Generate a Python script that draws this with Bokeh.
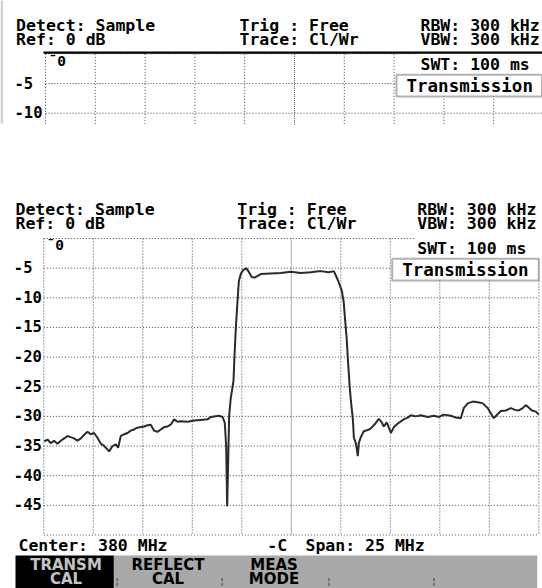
from bokeh.plotting import figure
from bokeh.models import Range1d, FixedTicker, Label, BoxAnnotation
from bokeh.layouts import column
from bokeh.embed import file_html
from bokeh.resources import INLINE

# ---------------- data ----------------
freq_mhz = [
    367.52, 367.69, 367.85, 368.02, 368.19, 368.36, 368.53, 368.70, 368.86, 369.03,
    369.20, 369.37, 369.54, 369.71, 369.87, 370.04, 370.21, 370.38, 370.55, 370.72,
    370.80, 370.97, 371.14, 371.25, 371.39, 371.56, 371.73, 371.89, 372.06, 372.23,
    372.40, 372.57, 372.74, 372.90, 373.07, 373.24, 373.41, 373.58, 373.75, 373.91,
    374.08, 374.25, 374.42, 374.76, 375.09, 375.43, 375.77, 375.93, 376.10, 376.35,
    376.53, 376.64, 376.71, 376.76, 376.80, 376.86, 376.94, 377.08, 377.12, 377.20,
    377.25, 377.35, 377.45, 377.55, 377.72, 377.85, 378.00, 378.15, 378.30, 378.46,
    378.96, 379.47, 379.97, 380.48, 380.98, 381.49, 381.89, 382.15, 382.35, 382.55,
    382.65, 382.70, 382.80, 382.85, 382.90, 382.95, 383.01, 383.11, 383.16, 383.26,
    383.36, 383.41, 383.51, 383.66, 383.86, 384.02, 384.22, 384.42, 384.57, 384.67,
    384.82, 385.03, 385.18, 385.38, 385.68, 385.88, 386.04, 386.29, 386.54, 386.89,
    387.20, 387.45, 387.70, 388.06, 388.31, 388.56, 388.71, 388.91, 389.17, 389.42,
    389.67, 389.92, 390.08, 390.23, 390.43, 390.58, 390.83, 391.09, 391.29, 391.49,
    391.69, 391.84, 391.99, 392.15, 392.35, 392.50,
]
level_db = [
    -34.2, -33.9, -34.5, -34.1, -34.6, -34.1, -33.7, -33.3, -33.5, -33.7,
    -34.1, -33.7, -33.1, -32.6, -33.0, -32.8, -33.6, -34.6, -35.0, -35.6,
    -35.9, -35.0, -34.7, -35.3, -33.3, -33.0, -32.8, -32.4, -32.2, -31.9,
    -31.8, -31.7, -31.5, -31.4, -32.4, -32.6, -32.2, -31.8, -31.7, -31.4,
    -30.5, -30.9, -30.8, -30.9, -30.7, -30.6, -30.5, -30.1, -30.0, -29.9,
    -30.1, -31.1, -35.0, -45.2, -39.5, -30.0, -27.0, -24.0, -20.7, -15.0,
    -12.3, -7.2, -6.0, -5.4, -5.0, -5.6, -6.5, -6.6, -6.3, -6.0,
    -5.9, -5.8, -5.6, -5.8, -5.7, -5.5, -5.7, -5.5, -7.0, -8.8,
    -10.8, -13.0, -17.0, -20.0, -22.5, -25.0, -27.4, -30.5, -33.6, -34.5,
    -36.7, -34.5, -33.5, -32.5, -32.3, -32.0, -31.3, -30.4, -31.0, -31.7,
    -31.0, -32.8, -31.8, -31.2, -30.5, -30.2, -29.8, -30.0, -29.8, -30.1,
    -29.9, -30.1, -29.7, -29.9, -30.2, -30.3, -28.6, -27.8, -27.5, -27.6,
    -27.8, -28.6, -29.5, -30.3, -29.6, -29.1, -29.0, -28.6, -28.9, -29.0,
    -28.6, -28.1, -28.5, -29.0, -29.2, -29.7,
]
x_start_mhz, x_end_mhz = 367.5, 392.5
center_mhz = 380.0
span_mhz = 25
y_top_db, y_bottom_db = 0, -50
y_ticks_db = [-5, -10, -15, -20, -25, -30, -35, -40, -45]
y_tick_labels = ["-5\u00a0", "-10", "-15", "-20", "-25", "-30", "-35", "-40", "-45"]
x_grid_mhz = [367.5, 370.0, 372.5, 375.0, 377.5, 382.5, 385.0, 387.5, 390.0, 392.5]
y_grid_db = [0, -5, -10, -15, -20, -25, -30, -35, -40, -45, -50]
header_left = ["Detect: Sample", "Ref: 0 dB"]
header_mid = ["Trig : Free", "Trace: Cl/Wr"]
header_right = ["RBW: 300 kHz", "VBW: 300 kHz", "SWT: 100 ms"]
mode_label = "Transmission"
ref_marker = "\u00af0"
softkey_top = ["TRANSM", "REFLECT", "MEAS"]
softkey_bottom = ["CAL", "CAL", "MODE"]

FONT = "DejaVu Sans Mono"
KEYFONT = "DejaVu Sans"
GRID = "#444444"
INK = "#000000"
HSIZE = 16.5
W, H = 542, 588
SPLIT = 125  # page row where the first (cropped) screen ends
BASE_FIX = 0.37  # baseline correction, in em


def make_conv(x0, ppx, y0, ppy):
    fx = lambda px: x_start_mhz + (px - x0) / ppx
    fy = lambda py: y_top_db - (py - y0) / ppy
    return fx, fy


def label(p, conv, px, py, s, size=HSIZE, color=INK, align="left", font=FONT):
    fx, fy = conv
    p.add_layout(Label(x=fx(px), y=fy(py - BASE_FIX * size), text=s, text_font=font,
                       text_font_size="%.1fpx" % size, text_font_style="bold",
                       text_color=color, text_align=align, text_baseline="alphabetic"))


def box(p, conv, l, r, t, b, fill, line=None, lw=1):
    fx, fy = conv
    p.add_layout(BoxAnnotation(left=fx(l), right=fx(r), top=fy(t), bottom=fy(b),
                               fill_color=fill, fill_alpha=1, line_color=line, line_width=lw))


def screen_fig(h, conv, row_top, row_bottom, ticks, labels, standoff):
    fx, fy = conv
    y_lo = max(fy(row_bottom), y_bottom_db)
    p = figure(width=W, height=h,
               x_range=Range1d(fx(0), fx(W)),
               y_range=Range1d(fy(row_bottom), fy(row_top)),
               output_backend="svg", toolbar_location=None,
               x_axis_location=None, min_border=0)
    p.background_fill_color = "white"
    p.border_fill_color = "white"
    p.outline_line_color = None
    p.xgrid.visible = False
    p.ygrid.visible = False
    ax = p.yaxis[0]
    ax.fixed_location = x_start_mhz
    ax.ticker = FixedTicker(ticks=ticks)
    ax.major_label_overrides = {t: l for t, l in zip(ticks, labels)}
    ax.axis_line_color = None
    ax.major_tick_line_color = None
    ax.minor_tick_line_color = None
    ax.major_tick_out = 0
    ax.major_tick_in = 0
    ax.major_label_standoff = standoff
    ax.major_label_text_font = FONT
    ax.major_label_text_font_size = "15.5px"
    ax.major_label_text_font_style = "bold"
    ax.major_label_text_color = INK
    # dotted graticule
    gx = x_grid_mhz
    p.segment(x0=gx, y0=[y_top_db] * len(gx), x1=gx, y1=[y_lo] * len(gx),
              line_color=GRID, line_dash="1 2", line_width=1)
    gy = [t for t in y_grid_db if t >= y_lo]
    p.segment(x0=[x_start_mhz] * len(gy), y0=gy, x1=[x_end_mhz] * len(gy), y1=gy,
              line_color=GRID, line_dash="1 2", line_width=1)
    p.segment(x0=[center_mhz], y0=[y_top_db], x1=[center_mhz], y1=[y_lo],
              line_color="#555555", line_dash="1 1", line_width=1)
    return p


# ---------------- top: cropped, empty screen ----------------
ca = make_conv(45, 498 / 25.0, 53.3, 297 / 50.0)
pa = screen_fig(SPLIT, ca, 0, SPLIT, y_ticks_db[:2], y_tick_labels[:2], 3)
box(pa, ca, 0, 2.5, 0, 123, "#cfcfcf")
box(pa, ca, 418, 560, 52, 74.3, "white")
box(pa, ca, 43, 560, 51, 53.3, INK)
box(pa, ca, 396, 541.5, 74.3, 96, "white", INK, 2)
label(pa, ca, 15.6, 31, header_left[0])
label(pa, ca, 15.6, 45.5, header_left[1])
label(pa, ca, 239, 31, header_mid[0])
label(pa, ca, 239, 45.5, header_mid[1])
label(pa, ca, 420, 31, header_right[0])
label(pa, ca, 420, 45.5, header_right[1])
label(pa, ca, 420, 70.5, header_right[2])
label(pa, ca, 406, 91.5, mode_label, size=17.5)
label(pa, ca, 48, 66, ref_marker, size=14.5)

# ---------------- bottom: full screen with trace ----------------
cb = make_conv(43.3, 19.8, 238, 5.93)
pb = screen_fig(H - SPLIT, cb, SPLIT, H, y_ticks_db, y_tick_labels, 2)
pb.line(freq_mhz, level_db, line_color="#2a2a2a", line_width=2)
box(pb, cb, 415, 560, 233, 258.5, "white")
box(pb, cb, 391.7, 538.3, 258.3, 280, "white", INK, 2)
box(pb, cb, 113.3, 536.7, 555, 600, "#a9a9a9")
box(pb, cb, 15, 113.3, 555, 600, "#000000")
label(pb, cb, 15, 215, header_left[0])
label(pb, cb, 15, 229.5, header_left[1])
label(pb, cb, 236.7, 215, header_mid[0])
label(pb, cb, 236.7, 229.5, header_mid[1])
label(pb, cb, 416.7, 215, header_right[0])
label(pb, cb, 416.7, 229.5, header_right[1])
label(pb, cb, 416.7, 254.5, header_right[2])
label(pb, cb, 401.7, 275.5, mode_label, size=17.5)
label(pb, cb, 46, 250, ref_marker, size=14.5)
label(pb, cb, 18, 551.5, "Center: %d MHz" % center_mhz)
label(pb, cb, 266.7, 551.5, "-C")
label(pb, cb, 305, 551.5, "Span: %d MHz" % span_mhz)

# soft keys
key_centers = [65.5, 167.5, 273.5]
key_colors = ["#c4c4c4", INK, INK]
for cx, t1, t2, c in zip(key_centers, softkey_top, softkey_bottom, key_colors):
    label(pb, cb, cx, 570.5, t1, size=15, color=c, align="center", font=KEYFONT)
    label(pb, cb, cx, 584.3, t2, size=15, color=c, align="center", font=KEYFONT)
for sx in [116.7, 221.7, 328.3, 433.3]:
    label(pb, cb, sx, 583.5, "\u00a6", size=9, color="#444444", align="center", font=KEYFONT)

layout = column(pa, pb, spacing=0)
open("out.html", "w").write(file_html(layout, INLINE))
